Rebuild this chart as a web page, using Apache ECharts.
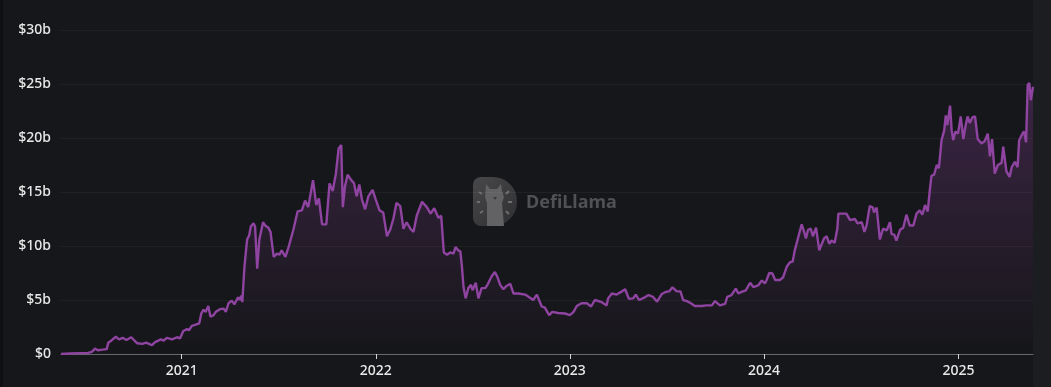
<!DOCTYPE html>
<html><head><meta charset="utf-8">
<script src="https://cdn.jsdelivr.net/npm/echarts@6/dist/echarts.min.js"></script>
<style>
html,body{margin:0;padding:0;background:#1c1d21;width:1051px;height:387px;overflow:hidden}
#bg{position:absolute;left:0;top:0;width:1033px;height:387px;background:#16171a;border-left:3px solid #0f1012;box-sizing:border-box}
#chart{position:absolute;left:0;top:0;width:1051px;height:387px}
</style></head><body><div id="bg"></div><div id="chart"></div>
<script>
const dates = [
"2020-05-19","2020-06-05","2020-06-24","2020-07-09","2020-07-16","2020-07-22","2020-07-27","2020-08-05","2020-08-13","2020-08-16",
"2020-08-23","2020-08-30","2020-09-05","2020-09-12","2020-09-19","2020-09-28","2020-10-09","2020-10-19","2020-10-26","2020-11-06",
"2020-11-12","2020-11-23","2020-11-28","2020-12-04","2020-12-14","2020-12-23","2020-12-29","2021-01-04","2021-01-11","2021-01-15",
"2021-01-20","2021-01-26","2021-02-03","2021-02-07","2021-02-11","2021-02-15","2021-02-20","2021-02-24","2021-03-02","2021-03-06",
"2021-03-14","2021-03-21","2021-03-25","2021-03-30","2021-04-05","2021-04-10","2021-04-17","2021-04-20","2021-04-23","2021-04-25",
"2021-04-29","2021-05-04","2021-05-08","2021-05-11","2021-05-16","2021-05-19","2021-05-23","2021-05-27","2021-06-03","2021-06-07",
"2021-06-13","2021-06-17","2021-06-23","2021-06-29","2021-07-04","2021-07-08","2021-07-15","2021-07-21","2021-07-30","2021-08-07",
"2021-08-15","2021-08-21","2021-08-27","2021-09-01","2021-09-05","2021-09-11","2021-09-16","2021-09-22","2021-09-30","2021-10-06",
"2021-10-12","2021-10-18","2021-10-23","2021-10-28","2021-10-31","2021-11-04","2021-11-09","2021-11-16","2021-11-21","2021-11-26",
"2021-12-01","2021-12-06","2021-12-12","2021-12-18","2021-12-26","2022-01-01","2022-01-08","2022-01-15","2022-01-22","2022-01-28",
"2022-02-03","2022-02-09","2022-02-16","2022-02-22","2022-02-28","2022-03-07","2022-03-13","2022-03-19","2022-03-29","2022-04-07",
"2022-04-14","2022-04-21","2022-04-29","2022-05-04","2022-05-09","2022-05-15","2022-05-21","2022-05-27","2022-05-31","2022-06-05",
"2022-06-09","2022-06-12","2022-06-15","2022-06-19","2022-06-24","2022-06-29","2022-07-02","2022-07-08","2022-07-13","2022-07-19",
"2022-07-26","2022-07-31","2022-08-07","2022-08-13","2022-08-18","2022-08-23","2022-08-29","2022-09-04","2022-09-11","2022-09-17",
"2022-09-26","2022-10-09","2022-10-18","2022-10-24","2022-10-31","2022-11-09","2022-11-15","2022-11-23","2022-11-29","2022-12-10",
"2022-12-23","2023-01-01","2023-01-08","2023-01-14","2023-01-23","2023-02-02","2023-02-10","2023-02-17","2023-03-02","2023-03-11",
"2023-03-14","2023-03-21","2023-03-30","2023-04-09","2023-04-15","2023-04-22","2023-04-30","2023-05-05","2023-05-11","2023-05-22",
"2023-05-29","2023-06-06","2023-06-14","2023-06-23","2023-07-01","2023-07-07","2023-07-13","2023-07-21","2023-07-28","2023-08-02",
"2023-08-09","2023-08-15","2023-08-24","2023-09-06","2023-09-15","2023-09-25","2023-10-01","2023-10-10","2023-10-20","2023-10-24",
"2023-11-01","2023-11-09","2023-11-14","2023-11-20","2023-11-28","2023-12-06","2023-12-12","2023-12-21","2023-12-28","2024-01-03",
"2024-01-06","2024-01-11","2024-01-17","2024-01-22","2024-01-31","2024-02-06","2024-02-13","2024-02-19","2024-02-24","2024-02-28",
"2024-03-06","2024-03-12","2024-03-16","2024-03-20","2024-03-24","2024-03-29","2024-04-02","2024-04-08","2024-04-14","2024-04-18",
"2024-04-23","2024-04-28","2024-05-03","2024-05-07","2024-05-13","2024-05-18","2024-05-20","2024-05-29","2024-06-04","2024-06-11",
"2024-06-20","2024-06-25","2024-07-03","2024-07-08","2024-07-12","2024-07-18","2024-07-24","2024-07-26","2024-07-31","2024-08-06",
"2024-08-12","2024-08-19","2024-08-25","2024-08-28","2024-09-02","2024-09-06","2024-09-13","2024-09-19","2024-09-25","2024-10-01",
"2024-10-08","2024-10-14","2024-10-20","2024-10-25","2024-10-30","2024-11-04","2024-11-08","2024-11-11","2024-11-16","2024-11-21",
"2024-11-25","2024-11-30","2024-12-05","2024-12-08","2024-12-11","2024-12-16","2024-12-19","2024-12-22","2024-12-26","2024-12-31",
"2025-01-05","2025-01-10","2025-01-14","2025-01-18","2025-01-22","2025-01-27","2025-02-01","2025-02-06","2025-02-13","2025-02-19",
"2025-02-25","2025-03-01","2025-03-05","2025-03-10","2025-03-16","2025-03-23","2025-03-26","2025-04-01","2025-04-07","2025-04-11",
"2025-04-17","2025-04-22","2025-04-25","2025-05-01","2025-05-04","2025-05-08","2025-05-11","2025-05-14","2025-05-17","2025-05-21"
];
const tvlBillions = [
0.0,0.05,0.08,0.1,0.2,0.5,0.35,0.4,0.45,1.05,
1.3,1.6,1.36,1.5,1.3,1.55,1.0,0.94,1.05,0.83,
1.1,1.36,1.23,1.5,1.36,1.55,1.45,2.13,2.3,2.2,
2.6,2.7,2.84,3.77,4.1,3.9,4.44,3.46,3.6,3.9,
4.15,4.2,3.9,4.7,4.94,4.6,5.25,5.0,5.4,4.8,
8.1,10.6,11.0,11.8,12.1,11.8,7.9,10.6,12.2,11.9,
11.7,11.3,9.0,9.3,9.2,9.6,9.0,9.9,11.5,13.2,
13.3,14.2,13.6,15.0,16.1,13.8,14.4,12.0,12.0,15.8,
15.1,16.7,19.0,19.35,13.6,15.5,16.6,16.1,15.8,14.6,
15.7,14.3,13.4,14.6,15.2,14.3,13.3,13.1,10.9,11.5,
12.5,14.0,13.7,11.6,12.2,11.6,11.3,12.8,14.1,13.6,
13.0,13.5,12.6,12.8,9.4,9.2,9.4,9.3,9.9,9.6,
9.5,8.1,6.2,5.15,6.1,6.4,5.9,6.6,5.15,6.1,
6.1,6.5,7.2,7.6,7.1,6.4,6.0,6.3,6.5,5.6,
5.6,5.5,5.2,5.0,5.5,4.4,4.3,3.6,3.9,3.8,
3.75,3.6,3.9,4.44,4.7,4.7,4.4,5.0,4.8,4.5,
5.15,5.6,5.5,5.8,6.0,5.1,5.15,5.5,5.0,5.25,
5.46,5.3,4.85,5.56,5.77,5.8,6.17,5.8,5.8,5.0,
4.9,4.75,4.44,4.44,4.5,4.5,4.9,4.5,4.65,5.3,
5.45,6.05,5.6,5.75,5.9,6.6,6.2,6.35,6.8,6.55,
6.85,7.5,7.45,6.85,6.85,7.1,8.1,8.5,8.55,9.6,
10.9,12.0,11.4,10.7,11.5,11.6,10.9,11.7,9.6,10.1,
10.7,10.9,10.2,10.5,10.3,11.6,13.0,13.0,13.0,12.4,
12.5,12.1,12.2,11.3,11.9,13.7,13.55,13.1,13.55,10.6,
11.6,11.45,12.2,11.1,11.05,10.5,11.5,11.7,12.9,11.9,
11.9,13.0,13.3,12.9,13.8,13.2,15.2,16.5,16.6,17.5,
17.2,19.8,20.7,22.1,21.2,23.0,20.7,19.8,20.6,20.4,
22.0,19.9,21.1,22.0,21.4,21.9,22.0,19.9,19.5,19.7,
20.4,18.3,19.9,16.7,17.5,17.7,19.2,16.9,16.4,17.3,
17.8,17.3,19.8,20.4,20.6,19.6,24.9,25.1,23.5,24.75
];
const yMax = 30;
const yStep = 5;
const watermarkText = "DefiLlama";

const lineColor = '#8f44a1';
const chart = echarts.init(document.getElementById('chart'), null, {renderer: 'canvas'});
const seriesData = dates.map((d, i) => [d, tvlBillions[i]]);
const YEAR = 365 * 24 * 3600 * 1000;
const tickStroke = {stroke: '#6e6e70', lineWidth: 2};

chart.setOption({
  animation: false,
  backgroundColor: 'transparent',
  grid: {left: 61, right: 18, top: 30, bottom: 33, containLabel: false},
  xAxis: {
    type: 'time',
    min: dates[0],
    max: dates[dates.length - 1],
    minInterval: YEAR,
    splitNumber: 5,
    axisLine: {show: true, lineStyle: {color: '#66686d', width: 1}},
    axisTick: {show: true, length: 5, lineStyle: {color: '#d6d6d6', width: 1}},
    axisLabel: {color: '#e8e8e8', fontSize: 14, fontWeight: 500, fontFamily: 'Noto Sans', margin: 10, formatter: '{yyyy}', hideOverlap: true},
    splitLine: {show: false}
  },
  yAxis: {
    type: 'value',
    min: 0, max: yMax, interval: yStep,
    axisLine: {show: false},
    axisTick: {show: false},
    axisLabel: {color: '#e8e8e8', fontSize: 14, fontWeight: 500, fontFamily: 'Noto Sans', margin: 10,
      formatter: v => v === 0 ? '$0' : '$' + v + 'b'},
    splitLine: {show: true, lineStyle: {color: 'rgba(255,255,255,0.045)', width: 1}}
  },
  graphic: [
    {
      type: 'group', x: 473, y: 177, z: -1, silent: true,
      children: [
        {type: 'rect', shape: {x: 0, y: 0, width: 44, height: 49, r: [8, 24, 24, 8]},
          style: {fill: {type: 'linear', x: 0, y: 0, x2: 1, y2: 1, colorStops: [{offset: 0, color: '#48484b'}, {offset: 1, color: '#2f2f32'}]}}},
        {type: 'polygon', shape: {points: [[13,7],[17,12],[24,12],[28,7],[29,14],[31,20],[29,26],[31,49],[14,49],[14,26],[12,20]]},
          style: {fill: '#626264'}},
        {type: 'polygon', shape: {points: [[20,20],[22,23],[24,20]]}, style: {fill: '#3c3c3e'}},
        {type: 'line', shape: {x1: 6, y1: 15, x2: 9, y2: 17}, style: tickStroke},
        {type: 'line', shape: {x1: 4, y1: 25, x2: 7, y2: 25}, style: tickStroke},
        {type: 'line', shape: {x1: 7, y1: 36, x2: 10, y2: 34}, style: tickStroke},
        {type: 'line', shape: {x1: 33, y1: 17, x2: 36, y2: 14}, style: tickStroke},
        {type: 'line', shape: {x1: 35, y1: 25, x2: 39, y2: 25}, style: tickStroke},
        {type: 'line', shape: {x1: 33, y1: 34, x2: 36, y2: 37}, style: tickStroke}
      ]
    },
    {
      type: 'text', x: 526, y: 203, z: -1, silent: true,
      style: {text: watermarkText, fill: '#505155', font: 'bold 18px "Noto Sans"', verticalAlign: 'middle'}
    }
  ],
  series: [{
    type: 'line',
    data: seriesData,
    showSymbol: false,
    symbol: 'none',
    lineStyle: {color: lineColor, width: 2.4},
    itemStyle: {color: lineColor},
    areaStyle: {
      color: {type: 'linear', x: 0, y: 0, x2: 0, y2: 1, colorStops: [
        {offset: 0, color: 'rgba(143,68,161,0.45)'},
        {offset: 1, color: 'rgba(143,68,161,0)'}
      ]}
    }
  }]
});
</script>
</body></html>
